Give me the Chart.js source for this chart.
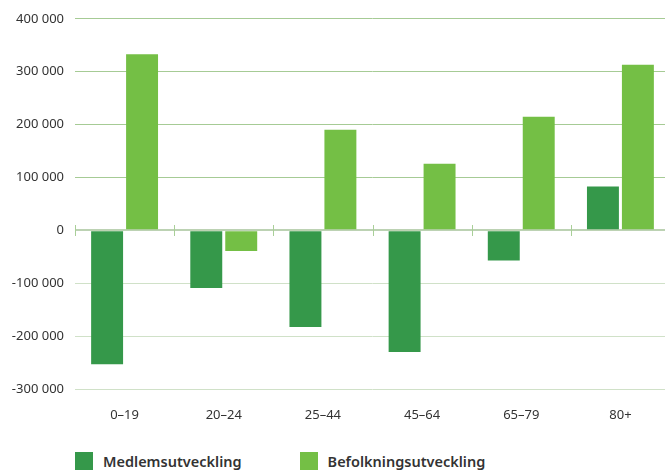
<!DOCTYPE html>
<html lang="sv">
<head>
    <meta charset="UTF-8">
    <title>Medlemsutveckling och befolkningsutveckling</title>
    <script src="https://cdn.jsdelivr.net/npm/chart.js"></script>
    <style>
        html, body { margin: 0; padding: 0; background: #fff; overflow: hidden; }
        #wrap { position: relative; width: 670px; height: 470px; }
        #chartBox { position: absolute; left: 0; top: 0; width: 670px; height: 430px; }
        .legend { position: absolute; top: 451px; left: 75px; display: flex; font-family: "Noto Sans", sans-serif; font-size: 14.5px; font-weight: 600; color: #333; }
        .legend .item { display: flex; align-items: center; margin-right: 58px; }
        .legend .box { width: 18px; height: 18px; margin-right: 10px; }
    </style>
</head>
<body>
<div id="wrap">
    <div id="chartBox"><canvas id="chart"></canvas></div>
    <div class="legend" id="legend"></div>
</div>

<script>
    // age groups
    const categories = ['0–19', '20–24', '25–44', '45–64', '65–79', '80+'];
    const medlemsutveckling = [-253000, -109000, -183000, -230000, -57000, 83000];
    const befolkningsutveckling = [333000, -39000, 190000, 126000, 215000, 313000];
    const yTicks = [-300000, -200000, -100000, 0, 100000, 200000, 300000, 400000];

    const darkGreen = '#35984a';
    const lightGreen = '#74bf45';

    function fmt(v) {
        const s = Math.abs(v).toString().replace(/\B(?=(\d{3})+(?!\d))/g, ' ');
        return (v < 0 ? '-' : '') + s;
    }

    // small tick marks across the zero line between groups
    const zeroTicks = {
        id: 'zeroTicks',
        beforeDatasetsDraw(chart) {
            const ctx = chart.ctx;
            const x = chart.scales.x;
            const y0 = Math.round(chart.scales.y.getPixelForValue(0));
            ctx.save();
            ctx.strokeStyle = '#a9cf98';
            ctx.lineWidth = 1;
            for (let i = 0; i <= categories.length; i++) {
                const px = Math.round(x.getPixelForValue(i - 0.5)) + 0.5;
                ctx.beginPath();
                ctx.moveTo(px, y0 - 5);
                ctx.lineTo(px, y0 + 6);
                ctx.stroke();
            }
            ctx.restore();
        }
    };

    const datasets = [
        { label: 'Medlemsutveckling', data: medlemsutveckling, backgroundColor: darkGreen },
        { label: 'Befolkningsutveckling', data: befolkningsutveckling, backgroundColor: lightGreen }
    ];

    new Chart(document.getElementById('chart'), {
        type: 'bar',
        data: { labels: categories, datasets: datasets },
        options: {
            responsive: true,
            maintainAspectRatio: false,
            animation: false,
            categoryPercentage: 0.705,
            barPercentage: 0.914,
            layout: { padding: { top: 18, right: 0, left: 0, bottom: 0 } },
            plugins: {
                legend: { display: false },
                tooltip: { enabled: false }
            },
            scales: {
                x: {
                    grid: { display: false },
                    border: { display: false },
                    ticks: {
                        color: '#333',
                        padding: 10,
                        font: { family: 'Noto Sans', size: 13 }
                    },
                    afterFit(s) { s.height = 41; }
                },
                y: {
                    min: -300000,
                    max: 400000,
                    afterBuildTicks(s) { s.ticks = yTicks.map(v => ({ value: v })); },
                    border: { display: false },
                    grid: {
                        drawTicks: false,
                        tickLength: 0,
                        color: c => c.tick.value > 0 ? '#a6cb95' : (c.tick.value === 0 ? '#bcd2b3' : '#d0e1c8'),
                        lineWidth: c => c.tick.value === 0 ? 2 : 1
                    },
                    ticks: {
                        color: '#333',
                        padding: 11,
                        font: { family: 'Noto Sans', size: 13 },
                        callback: v => fmt(v)
                    },
                    afterFit(s) { s.width = 75; }
                }
            }
        },
        plugins: [zeroTicks]
    });

    // legend below the chart
    const legend = document.getElementById('legend');
    datasets.forEach(d => {
        const item = document.createElement('div');
        item.className = 'item';
        const box = document.createElement('span');
        box.className = 'box';
        box.style.background = d.backgroundColor;
        const txt = document.createElement('span');
        txt.textContent = d.label;
        item.appendChild(box);
        item.appendChild(txt);
        legend.appendChild(item);
    });
</script>
</body>
</html>
